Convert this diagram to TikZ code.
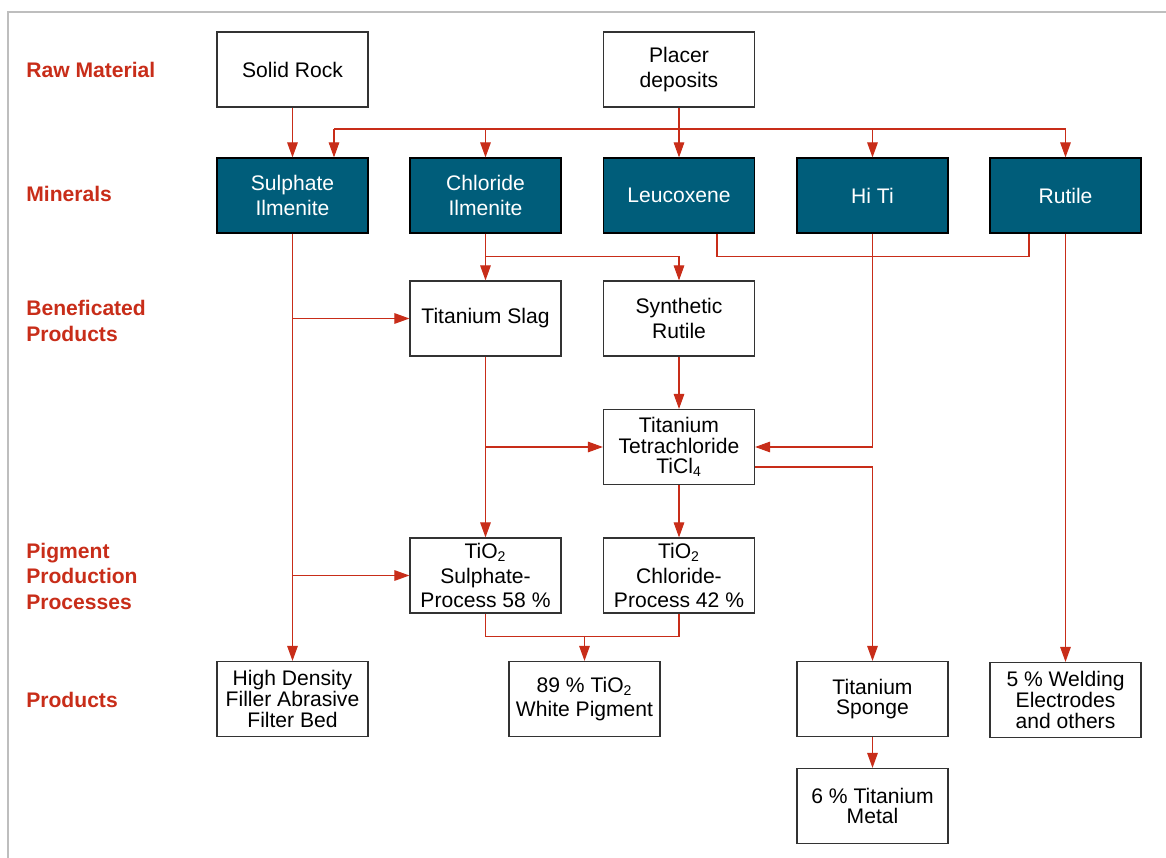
\documentclass[tikz,border=0pt]{standalone}
\usepackage{fontspec}
\setmainfont{Liberation Sans}
\usetikzlibrary{arrows.meta,calc,positioning}
\definecolor{flowred}{RGB}{200,45,25}
\definecolor{teal}{RGB}{0,93,122}
\definecolor{frame}{RGB}{190,190,190}
\tikzset{
  box/.style={draw=black!80, line width=0.7pt, fill=white, minimum width=3.02cm, minimum height=1.5cm, inner sep=1pt, align=center, font=\fontsize{12}{14}\selectfont},
  tbox/.style={box, font=\fontsize{12}{11.8}\selectfont},
  mineral/.style={box, draw=black, fill=teal, text=white},
  stage/.style={anchor=west, inner sep=0pt, align=left, text=flowred, font=\fontsize{12}{14.5}\selectfont\bfseries},
  link/.style={draw=flowred, line width=0.6pt},
  arr/.style={link, -{Triangle[length=8.5pt,width=6pt]}}
}
\begin{document}
\begin{tikzpicture}[x=0.02cm,y=-0.02cm]
\useasboundingbox (0,0) rectangle (1166,858);
\draw[frame, line width=0.9pt] (1166,12) -- (8,12) -- (8,858);

\node[stage] (lraw) at (26,69.5) {Raw Material}; \node[stage] (lmin) at (26,194) {Minerals};
\node[stage] (lben) at (26,321) {Beneficated\\Products}; \node[stage] (lpig) at (26,576) {Pigment\\Production\\Processes};
\node[stage] (lprod) at (26,700) {Products};

\node[box] (solid) at (292.5,69.5) {Solid Rock}; \node[box] (placer) at (679,69.5) {Placer\\deposits};
\node[mineral] (sulph) at (292.5,195.5) {Sulphate\\Ilmenite}; \node[mineral] (chlor) at (485.5,195.5) {Chloride\\Ilmenite};
\node[mineral] (leuco) at (679,195.5) {Leucoxene}; \node[mineral] (hiti) at (872.5,195.5) {Hi Ti};
\node[mineral] (rutile) at (1065.5,195.5) {Rutile};
\node[box] (slag) at (485.5,318.5) {Titanium Slag}; \node[box] (synth) at (679,318.5) {Synthetic\\Rutile};
\node[tbox] (ticl) at (679,447) {Titanium\\Tetrachloride\\TiCl\textsubscript{4}};
\node[box] (tisul) at (485.5,575.5) {TiO\textsubscript{2}\\Sulphate-\\Process 58 \%};
\node[box] (ticho) at (679,575.5) {TiO\textsubscript{2}\\Chloride-\\Process 42 \%};
\node[tbox] (hd) at (292.5,699) {High Density\\Filler Abrasive\\Filter Bed}; \node[box] (pigm) at (584.5,699) {89 \% TiO\textsubscript{2}\\White Pigment};
\node[tbox] (sponge) at (872.5,699) {Titanium\\Sponge}; \node[tbox] (weld) at (1065.5,700) {5 \% Welding\\Electrodes\\and others};
\node[tbox] (metal) at (872.5,806) {6 \% Titanium\\Metal};
\coordinate (bus) at (679,129); \coordinate (sin) at ($(sulph.north)+(41.5,0)$);

\draw[arr] (solid) -- (sulph); \draw[arr] (placer) -- (leuco);
\draw[link] (bus -| sin) -- (bus -| rutile.north); \draw[arr] (bus -| sin) -- (sin);
\draw[arr] (bus) -| (chlor.north); \draw[arr] (bus) -| (hiti.north); \draw[arr] (bus) -| (rutile.north);
\draw[link] ($(leuco.south)+(38,0)$) -- ++(0,23) -| ($(rutile.south)+(-36.5,0)$);
\draw[arr] (chlor) -- (slag); \draw[arr] (chlor.south) -- ++(0,23) -| (synth.north);

\draw[arr] (sulph) -- (hd); \draw[arr] (sulph.south |- slag.west) -- (slag.west); \draw[arr] (sulph.south |- tisul.west) -- (tisul.west);
\draw[arr] (slag) -- (tisul); \draw[arr] (slag.south |- ticl.west) -- (ticl.west);
\draw[arr] (synth) -- (ticl); \draw[arr] (hiti.south) |- (ticl.east);
\draw[arr] (rutile) -- (weld); \draw[arr] (ticl) -- (ticho);
\draw[arr] ($(ticl.east)+(0,20)$) -| (sponge.north);
\draw[link] (tisul.south) -- ++(0,23) -| (ticho.south); \draw[arr] ($(pigm.north)+(0,-25)$) -- (pigm.north);
\draw[arr] (sponge) -- (metal);
\end{tikzpicture}
\end{document}
